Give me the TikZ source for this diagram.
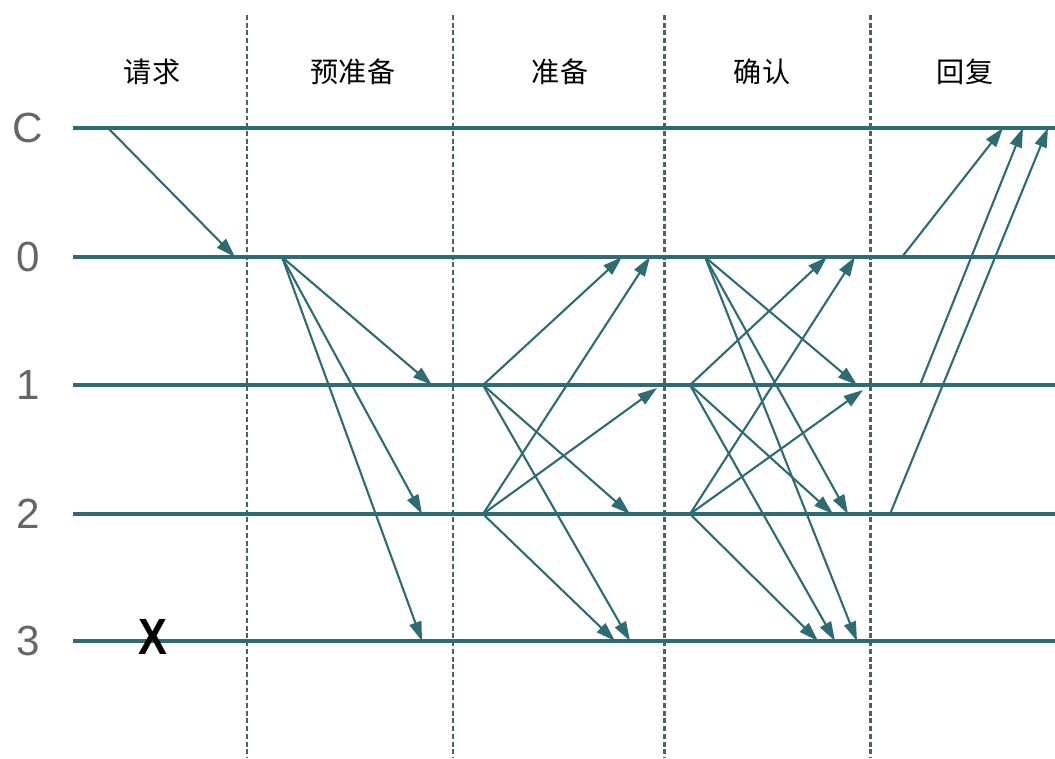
\documentclass[tikz,border=0pt]{standalone}
\usepackage{fontspec}
\setmainfont{Liberation Sans}
\newfontfamily\cjk{Noto Sans CJK SC}
\usetikzlibrary{arrows.meta}
\definecolor{lineteal}{RGB}{44,108,114}
\definecolor{phasegray}{RGB}{72,100,106}
\tikzset{
  rowline/.style={line width=2.6pt, lineteal},
  phase/.style={line width=1.7pt, phasegray, dash pattern=on 2.8pt off 1.6pt},
  msg/.style={line width=1.2pt, lineteal, -{Triangle[length=11pt,width=7pt]}},
  rowlab/.style={font=\fontsize{24}{24}\selectfont, text=black!60},
  phaselab/.style={font=\cjk\fontsize{16}{16}\selectfont}
}

\begin{document}
\begin{tikzpicture}[x=0.02cm, y=-0.02cm]
  \useasboundingbox (0,0) rectangle (1055,758);
  % phases
  \foreach \n/\x in {1/247,2/453,3/664,4/870} {
    \coordinate (top\n) at (\x,15);
    \coordinate (bot\n) at (\x,758);
    \draw[phase] (top\n) -- (bot\n);
  }
  \node[phaselab] (request) at (152,72) {请求};
  \node[phaselab] (preprep) at (353,72) {预准备};
  \node[phaselab] (prepare) at (560,72) {准备};
  \node[phaselab] (commit)  at (762,72) {确认};
  \node[phaselab] (reply)   at (965,72) {回复};
  % replicas
  \foreach \r/\y in {C/128,0/257,1/385,2/514,3/641} {
    \node[rowlab] (lab\r) at (28,\y) {\r};
    \coordinate (w\r) at (73,\y);
    \coordinate (e\r) at (1055,\y);
    \draw[rowline] (w\r) -- (e\r);
  }
  \node[font=\bfseries\fontsize{29}{29}\selectfont, xscale=0.85] (crash) at (153,637) {X};
  %
  \coordinate (reqs) at (108,128);
  \coordinate (reqt) at (235,257);
  \draw[msg] (reqs) -- (reqt);
  %
  \coordinate (pp0) at (282,257);
  \coordinate (pp1) at (432,385);
  \coordinate (pp2) at (422,514);
  \coordinate (pp3) at (422,641);
  \draw[msg] (pp0) -- (pp1);
  \draw[msg] (pp0) -- (pp2);
  \draw[msg] (pp0) -- (pp3);
  %
  \coordinate (p1) at (483,385);
  \coordinate (p2) at (483,514);
  \coordinate (p1to0) at (622,257);
  \coordinate (p1to2) at (630,514);
  \coordinate (p1to3) at (630,641);
  \coordinate (p2to0) at (650,257);
  \coordinate (p2to1) at (657,388);
  \coordinate (p2to3) at (615,641);
  \draw[msg] (p1) -- (p1to0);
  \draw[msg] (p1) -- (p1to2);
  \draw[msg] (p1) -- (p1to3);
  \draw[msg] (p2) -- (p2to0);
  \draw[msg] (p2) -- (p2to1);
  \draw[msg] (p2) -- (p2to3);
  %
  \coordinate (c0) at (705,257);
  \coordinate (c1) at (690,385);
  \coordinate (c2) at (690,514);
  \coordinate (c0to1) at (857,385);
  \coordinate (c0to2) at (848,514);
  \coordinate (c0to3) at (857,641);
  \coordinate (c1to0) at (827,257);
  \coordinate (c1to2) at (833,514);
  \coordinate (c1to3) at (835,641);
  \coordinate (c2to0) at (855,257);
  \coordinate (c2to1) at (863,390);
  \coordinate (c2to3) at (818,641);
  \draw[msg] (c0) -- (c0to1);
  \draw[msg] (c0) -- (c0to2);
  \draw[msg] (c0) -- (c0to3);
  \draw[msg] (c1) -- (c1to0);
  \draw[msg] (c1) -- (c1to2);
  \draw[msg] (c1) -- (c1to3);
  \draw[msg] (c2) -- (c2to0);
  \draw[msg] (c2) -- (c2to1);
  \draw[msg] (c2) -- (c2to3);
  %
  \coordinate (r0) at (902,257);
  \coordinate (r1) at (920,385);
  \coordinate (r2) at (890,514);
  \coordinate (r0toC) at (1003,128);
  \coordinate (r1toC) at (1023,128);
  \coordinate (r2toC) at (1048,128);
  \draw[msg] (r0) -- (r0toC);
  \draw[msg] (r1) -- (r1toC);
  \draw[msg] (r2) -- (r2toC);
\end{tikzpicture}
\end{document}
